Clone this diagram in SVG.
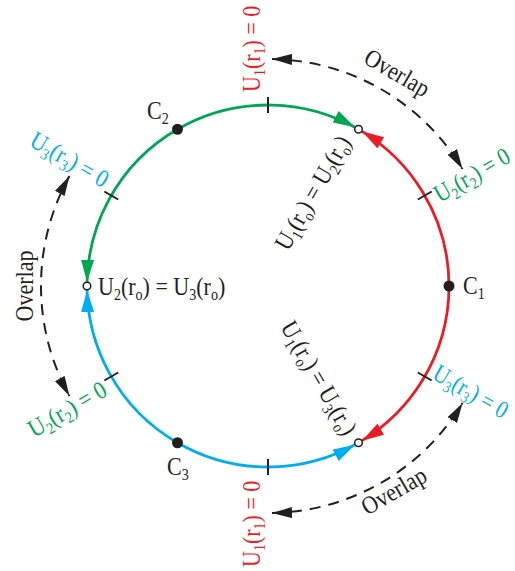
<svg xmlns="http://www.w3.org/2000/svg" width="515" height="571" viewBox="0 0 515 571">
<style>
.t{font-family:"Liberation Serif","Times New Roman",serif;font-size:25px;fill:#231f20}
.s{font-size:16px}
.red{fill:#ed1c24}.grn{fill:#00a651}.blu{fill:#00aeef}
.arc{fill:none;stroke-width:2.8}
.dash{fill:none;stroke:#231f20;stroke-width:2;stroke-dasharray:11 8}
.tick{stroke:#231f20;stroke-width:2}
</style>
<defs>
<marker id="aR" markerUnits="userSpaceOnUse" viewBox="0 0 22 13" refX="22" refY="6.5" markerWidth="22" markerHeight="13" orient="auto-start-reverse"><path d="M0,0L22,6.5L0,13z" fill="#ed1c24"/></marker>
<marker id="aG" markerUnits="userSpaceOnUse" viewBox="0 0 22 13" refX="22" refY="6.5" markerWidth="22" markerHeight="13" orient="auto-start-reverse"><path d="M0,0L22,6.5L0,13z" fill="#00a651"/></marker>
<marker id="aB" markerUnits="userSpaceOnUse" viewBox="0 0 22 13" refX="22" refY="6.5" markerWidth="22" markerHeight="13" orient="auto-start-reverse"><path d="M0,0L22,6.5L0,13z" fill="#00aeef"/></marker>
<marker id="aK" markerUnits="userSpaceOnUse" viewBox="0 0 20 11" refX="20" refY="5.5" markerWidth="20" markerHeight="11" orient="auto-start-reverse"><path d="M0,0L20,5.5L0,11z" fill="#231f20"/></marker>
</defs>
<g id="connectors">
<path class="arc" stroke="#00a651" d="M87.05,281.89A181,181 0 0 1 354.92,127.24" marker-start="url(#aG)" marker-end="url(#aG)"/>
<path class="arc" stroke="#ed1c24" d="M362.03,131.34A181,181 0 0 1 362.03,440.66" marker-start="url(#aR)" marker-end="url(#aR)"/>
<path class="arc" stroke="#00aeef" d="M87.05,290.11A181,181 0 0 0 354.92,444.76" marker-start="url(#aB)" marker-end="url(#aB)"/>
<path class="dash" d="M271.96,59.03A227,227 0 0 1 462.58,169.08" marker-start="url(#aK)" marker-end="url(#aK)"/>
<path class="dash" d="M69.46,175.95A227,227 0 0 0 69.46,396.05" marker-start="url(#aK)" marker-end="url(#aK)"/>
<path class="dash" d="M271.96,512.97A227,227 0 0 0 462.58,402.91" marker-start="url(#aK)" marker-end="url(#aK)"/>
</g>
<g id="ticks">
<line class="tick" x1="417.82" y1="199.5" x2="431.68" y2="191.5"/>
<line class="tick" x1="268" y1="113" x2="268" y2="97"/>
<line class="tick" x1="118.18" y1="199.5" x2="104.32" y2="191.5"/>
<line class="tick" x1="118.18" y1="372.5" x2="104.32" y2="380.5"/>
<line class="tick" x1="268" y1="459" x2="268" y2="475"/>
<line class="tick" x1="417.82" y1="372.5" x2="431.68" y2="380.5"/>
</g>
<g id="node-C1"><circle cx="449" cy="286" r="5.5" fill="#231f20"/><text class="t" transform="translate(463,294) scale(0.88,1)">C<tspan class="s" dy="5">1</tspan></text></g>
<g id="node-C2"><circle cx="177.5" cy="129.25" r="5.5" fill="#231f20"/><text class="t" transform="translate(147,119) scale(0.88,1)">C<tspan class="s" dy="5">2</tspan></text></g>
<g id="node-C3"><circle cx="177.5" cy="442.75" r="5.5" fill="#231f20"/><text class="t" transform="translate(167,475) scale(0.88,1)">C<tspan class="s" dy="5">3</tspan></text></g>
<g id="junction-12"><circle cx="358.5" cy="129.25" r="3.8" fill="#fff" stroke="#231f20" stroke-width="1.5"/><text class="t" transform="translate(288,252) rotate(-60) scale(0.88,1)">U<tspan class="s" dy="5">1</tspan><tspan dy="-5">(r</tspan><tspan class="s" dy="5">o</tspan><tspan dy="-5">) = U</tspan><tspan class="s" dy="5">2</tspan><tspan dy="-5">(r</tspan><tspan class="s" dy="5">o</tspan><tspan dy="-5">)</tspan></text></g>
<g id="junction-23"><circle cx="87" cy="286" r="3.8" fill="#fff" stroke="#231f20" stroke-width="1.5"/><text class="t" transform="translate(98,295) scale(0.88,1)">U<tspan class="s" dy="5">2</tspan><tspan dy="-5">(r</tspan><tspan class="s" dy="5">o</tspan><tspan dy="-5">) = U</tspan><tspan class="s" dy="5">3</tspan><tspan dy="-5">(r</tspan><tspan class="s" dy="5">o</tspan><tspan dy="-5">)</tspan></text></g>
<g id="junction-13"><circle cx="358.5" cy="442.75" r="3.8" fill="#fff" stroke="#231f20" stroke-width="1.5"/><text class="t" transform="translate(280,327) rotate(60) scale(0.88,1)">U<tspan class="s" dy="5">1</tspan><tspan dy="-5">(r</tspan><tspan class="s" dy="5">o</tspan><tspan dy="-5">) = U</tspan><tspan class="s" dy="5">3</tspan><tspan dy="-5">(r</tspan><tspan class="s" dy="5">o</tspan><tspan dy="-5">)</tspan></text></g>
<g id="labels">
<text class="t red" transform="translate(260,92) rotate(-90) scale(0.88,1)">U<tspan class="s" dy="5">1</tspan><tspan dy="-5">(r</tspan><tspan class="s" dy="5">1</tspan><tspan dy="-5">) = 0</tspan></text>
<text class="t red" transform="translate(260,567) rotate(-90) scale(0.88,1)">U<tspan class="s" dy="5">1</tspan><tspan dy="-5">(r</tspan><tspan class="s" dy="5">1</tspan><tspan dy="-5">) = 0</tspan></text>
<text class="t grn" transform="translate(440,203) rotate(-30) scale(0.85,1)">U<tspan class="s" dy="5">2</tspan><tspan dy="-5">(r</tspan><tspan class="s" dy="5">2</tspan><tspan dy="-5">) = 0</tspan></text>
<text class="t grn" transform="translate(34,438) rotate(-30) scale(0.88,1)">U<tspan class="s" dy="5">2</tspan><tspan dy="-5">(r</tspan><tspan class="s" dy="5">2</tspan><tspan dy="-5">) = 0</tspan></text>
<text class="t blu" transform="translate(28,145) rotate(30) scale(0.88,1)">U<tspan class="s" dy="5">3</tspan><tspan dy="-5">(r</tspan><tspan class="s" dy="5">3</tspan><tspan dy="-5">) = 0</tspan></text>
<text class="t blu" transform="translate(431,378) rotate(30) scale(0.84,1)">U<tspan class="s" dy="5">3</tspan><tspan dy="-5">(r</tspan><tspan class="s" dy="5">3</tspan><tspan dy="-5">) = 0</tspan></text>
<text class="t" text-anchor="middle" transform="translate(393,80) rotate(30) scale(0.88,1)">Overlap</text>
<text class="t" text-anchor="middle" transform="translate(33,286) rotate(-90) scale(0.88,1)">Overlap</text>
<text class="t" text-anchor="middle" transform="translate(398,498) rotate(-30) scale(0.88,1)">Overlap</text>
</g>
</svg>
